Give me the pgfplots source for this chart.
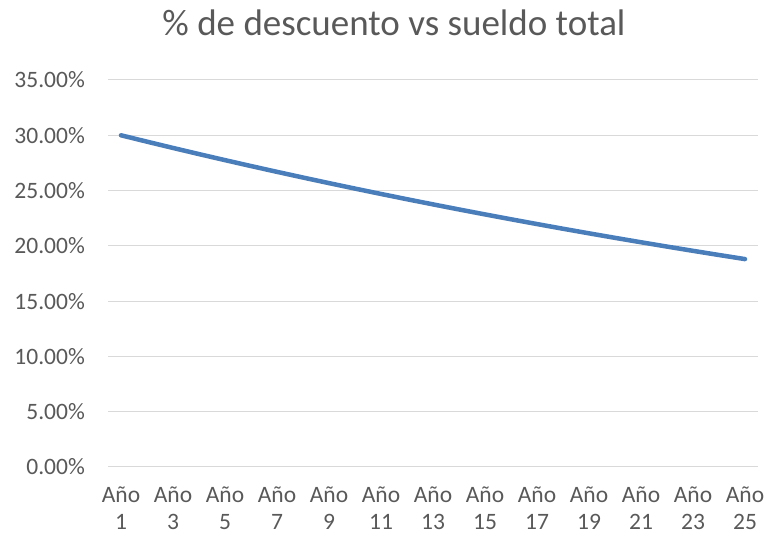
\documentclass[border=0pt]{standalone}
\usepackage{pgfplots}
\pgfplotsset{compat=1.18}
\usepackage{fontspec}
\setmainfont{Carlito}
\definecolor{txt}{HTML}{595959}
\definecolor{grd}{HTML}{D9D9D9}
\definecolor{ln}{HTML}{4A7EBB}
\begin{document}
\begin{tikzpicture}[x=1bp,y=1bp]
\path[use as bounding box] (0,0) rectangle (767,536);
\begin{axis}[
  at={(108bp,69bp)}, anchor=south west,
  scale only axis, width=650bp, height=387bp,
  xmin=0.5, xmax=25.5, ymin=0, ymax=35,
  axis line style={draw=none},
  major tick length=0,
  ymajorgrids, grid style={grd, line width=1bp},
  ytick={0,5,...,35},
  yticklabels={0.00\%,5.00\%,10.00\%,15.00\%,20.00\%,25.00\%,30.00\%,35.00\%},
  xtick={1,3,...,25},
  xticklabels={{Año\\1},{Año\\3},{Año\\5},{Año\\7},{Año\\9},{Año\\11},{Año\\13},{Año\\15},{Año\\17},{Año\\19},{Año\\21},{Año\\23},{Año\\25}},
  yticklabel style={font=\fontsize{23.5bp}{28bp}\selectfont, text=txt, inner sep=0pt, anchor=east, xshift=-23bp},
  xticklabel style={font=\fontsize{23.5bp}{26.5bp}\selectfont, text=txt, inner sep=0pt, anchor=north, align=center, yshift=-20bp},
  clip=false,
]
\addplot[ln, line width=4.5bp, line cap=round, line join=round] coordinates {
(1,30.000) (2,29.422) (3,28.854) (4,28.298) (5,27.752) (6,27.217) (7,26.693)
(8,26.178) (9,25.673) (10,25.178) (11,24.693) (12,24.217) (13,23.750)
(14,23.292) (15,22.843) (16,22.403) (17,21.971) (18,21.547) (19,21.132)
(20,20.724) (21,20.325) (22,19.933) (23,19.549) (24,19.172) (25,18.802)
};
\end{axis}
\node[anchor=base, inner sep=0pt, text=txt, font=\fontsize{37bp}{44bp}\selectfont] at (394,500) {\% de descuento vs sueldo total};
\end{tikzpicture}
\end{document}
